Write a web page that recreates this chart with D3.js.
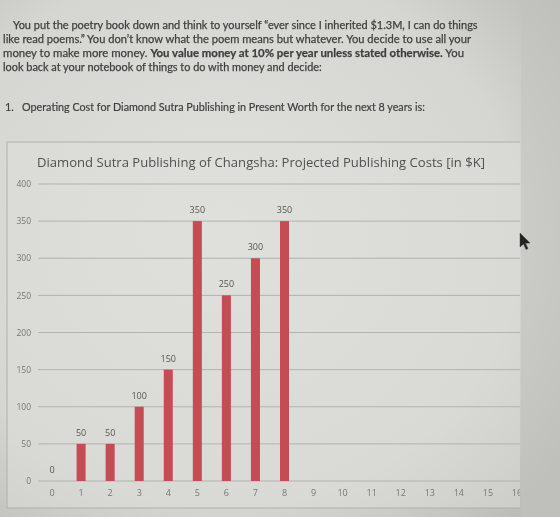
<!DOCTYPE html>
<html>
<head>
<meta charset="utf-8">
<script src="https://cdn.jsdelivr.net/npm/d3@7"></script>
<style>
  html, body { margin: 0; padding: 0; background: #d6d6d2; }
  svg { display: block; }
</style>
</head>
<body>
<script>
// chart values
var years = ["0","1","2","3","4","5","6","7","8","9","10","11","12","13","14","15","16"];
var costs = [0, 50, 50, 100, 150, 350, 250, 300, 350];
var yTicks = [0, 50, 100, 150, 200, 250, 300, 350, 400];
var chartTitle = "Diamond Sutra Publishing of Changsha: Projected Publishing Costs [in $K]";
var introLines = [
    [["You put the poetry book down and think to yourself \u201cever since I inherited $1.3M, I can do things", false]],
    [["like read poems.\u201d You don\u2019t know what the poem means but whatever. You decide to use all your", false]],
    [["money to make more money. ", false], ["You value money at 10% per year unless stated otherwise.", true], [" You", false]],
    [["look back at your notebook of things to do with money and decide:", false]]
];
var questionText = "1.   Operating Cost for Diamond Sutra Publishing in Present Worth for the next 8 years is:";

var W = 560, H = 517;
var svg = d3.select("body").append("svg").attr("width", W).attr("height", H);
var defs = svg.append("defs");

// photo-ish lighting
var bg = defs.append("radialGradient").attr("id", "bg")
    .attr("cx", 0.4).attr("cy", 0.45).attr("r", 0.75);
bg.append("stop").attr("offset", "0%").attr("stop-color", "#e1e1dd");
bg.append("stop").attr("offset", "70%").attr("stop-color", "#d5d5d1");
bg.append("stop").attr("offset", "100%").attr("stop-color", "#bcbcb8");
svg.append("rect").attr("width", W).attr("height", H).attr("fill", "url(#bg)");

defs.append("filter").attr("id", "soft")
    .append("feGaussianBlur").attr("stdDeviation", 0.35);

// right strip beyond screen edge
svg.append("rect").attr("x", 521).attr("y", 0).attr("width", 39).attr("height", H)
    .attr("fill", "#c2c2be").attr("opacity", 0.5);

var root = svg.append("g").attr("filter", "url(#soft)");

// fit a text element to a given width by changing font size
function fit(t, width) {
    var fs = parseFloat(t.attr("font-size"));
    for (var i = 0; i < 4; i++) {
        var w = t.node().getComputedTextLength();
        fs = fs * width / w;
        t.attr("font-size", fs);
    }
}

// intro paragraph
var lineY = [29, 43, 57, 71];
var lineX = [13, 3, 3, 3];
var lineW = [464, 468, 461, 319];
introLines.forEach(function(parts, i) {
    var t = root.append("text")
        .attr("x", lineX[i]).attr("y", lineY[i])
        .attr("xml:space", "preserve")
        .attr("font-family", "Lato, 'Open Sans', sans-serif")
        .attr("font-size", 11)
        .attr("fill", "#3f3f3f")
        .attr("stroke", "#3f3f3f").attr("stroke-width", 0.25);
    parts.forEach(function(p) {
        t.append("tspan").text(p[0]).attr("font-weight", p[1] ? "bold" : "normal");
    });
    fit(t, lineW[i]);
});

var q = root.append("text")
    .attr("x", 5).attr("y", 111)
    .attr("xml:space", "preserve")
    .attr("font-family", "Lato, 'Open Sans', sans-serif")
    .attr("font-size", 11)
    .attr("fill", "#3f3f3f")
    .attr("stroke", "#3f3f3f").attr("stroke-width", 0.2)
    .text(questionText);
fit(q, 420);

// chart box (runs off the screen edge at the right)
root.append("path")
    .attr("d", "M520,142 H7 V508 H520")
    .attr("fill", "#dededa").attr("fill-opacity", 0.5)
    .attr("stroke", "#b0b0ac").attr("stroke-width", 1);

defs.append("clipPath").attr("id", "clip")
    .append("rect").attr("x", 0).attr("y", 0).attr("width", 520).attr("height", H);
var g = root.append("g").attr("clip-path", "url(#clip)");

var title = g.append("text")
    .attr("x", 261).attr("y", 167)
    .attr("text-anchor", "middle")
    .attr("font-family", "'Open Sans', sans-serif")
    .attr("font-size", 14)
    .attr("fill", "#505050")
    .text(chartTitle);
fit(title, 448);

var x = d3.scaleBand().domain(years).range([37.5, 531.5]).paddingInner(0.69).paddingOuter(0.345);
var y = d3.scaleLinear().domain([0, 400]).range([481, 184]);

// gridlines
g.selectAll("line.grid").data(yTicks).enter().append("line")
    .attr("class", "grid")
    .attr("x1", 38).attr("x2", 520)
    .attr("y1", function(d) { return y(d); })
    .attr("y2", function(d) { return y(d); })
    .attr("stroke", "#b3b3af").attr("stroke-width", 1);

// y axis labels
var yAxis = d3.axisLeft(y).tickValues(yTicks).tickSize(0).tickPadding(0);
var ya = g.append("g").attr("transform", "translate(31,0)").call(yAxis);
ya.select(".domain").remove();
ya.selectAll("text").attr("font-family", "'Open Sans', sans-serif").attr("font-size", 8.5).attr("fill", "#777");

// x axis labels
var xAxis = d3.axisBottom(x).tickSize(0).tickPadding(0);
var xa = g.append("g").attr("transform", "translate(0,490)").call(xAxis);
xa.select(".domain").remove();
xa.selectAll("text").attr("font-family", "'Open Sans', sans-serif").attr("font-size", 9).attr("fill", "#777");

// bars
var barData = costs.map(function(v, i) { return { year: years[i], value: v }; });
g.selectAll("rect.bar").data(barData).enter().append("rect")
    .attr("class", "bar")
    .attr("x", function(d) { return x(d.year); })
    .attr("width", x.bandwidth())
    .attr("y", function(d) { return y(d.value); })
    .attr("height", function(d) { return y(0) - y(d.value); })
    .attr("fill", "#c54b54");

// value labels
g.selectAll("text.val").data(barData).enter().append("text")
    .attr("class", "val")
    .attr("x", function(d) { return x(d.year) + x.bandwidth() / 2; })
    .attr("y", function(d) { return y(d.value) - 8; })
    .attr("text-anchor", "middle")
    .attr("font-family", "'Open Sans', sans-serif")
    .attr("font-size", 9)
    .attr("fill", "#555")
    .text(function(d) { return d.value; });

// mouse pointer from the photo
root.append("path")
    .attr("d", "M520,233 L520,247 L523.5,244 L526,249.5 L528,248.5 L525.5,243.3 L530,243 Z")
    .attr("fill", "#222").attr("stroke", "#444").attr("stroke-width", 0.5);
</script>
</body>
</html>
